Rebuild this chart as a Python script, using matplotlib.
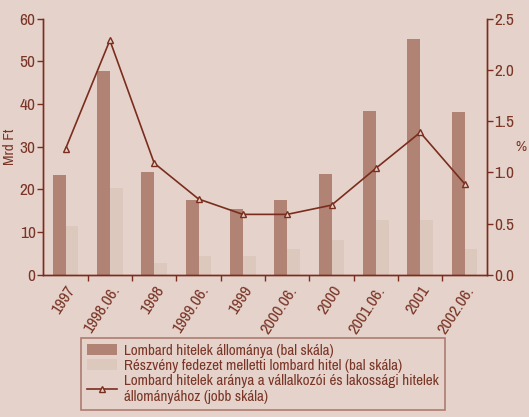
import numpy as np
import matplotlib
matplotlib.use('Agg')
import matplotlib.pyplot as plt

# data
periods = ['1997', '1998.06.', '1998', '1999.06.', '1999', '2000.06.',
           '2000', '2001.06.', '2001', '2002.06.']
lombard = [23.3, 47.7, 24.0, 17.5, 15.4, 17.5, 23.6, 38.3, 55.2, 38.1]
reszveny = [11.4, 20.3, 2.7, 4.4, 4.4, 6.0, 8.1, 12.8, 12.8, 6.0]
arany = [1.23, 2.29, 1.09, 0.74, 0.59, 0.59, 0.68, 1.04, 1.39, 0.89]

bg = '#E5D3CB'
dark = '#B08374'
light = '#DDC8BE'
brown = '#7B2D1D'
txt = '#7A3526'

plt.rcParams['font.family'] = ['Archivo Narrow', 'DejaVu Sans']
plt.rcParams['font.size'] = 11
plt.rcParams['text.color'] = txt
plt.rcParams['xtick.color'] = brown
plt.rcParams['ytick.color'] = brown
plt.rcParams['xtick.labelcolor'] = txt
plt.rcParams['ytick.labelcolor'] = txt
plt.rcParams['xtick.labelsize'] = 12
plt.rcParams['ytick.labelsize'] = 12.5

fig = plt.figure(figsize=(5.29, 4.17), dpi=100, facecolor=bg)
ax = fig.add_axes([0.082, 0.341, 0.838, 0.614])
ax.set_facecolor(bg)
ax2 = ax.twinx()

x = np.arange(len(periods))
w = 0.29
b1 = ax.bar(x - w/2, lombard, w, color=dark, label='Lombard hitelek állománya (bal skála)')
b2 = ax.bar(x + w/2, reszveny, w, color=light,
            label='Részvény fedezet melletti lombard hitel (bal skála)')
l1, = ax2.plot(x, arany, color=brown, lw=1.2, marker='^', ms=4, mfc=bg, mec=brown, mew=1,
               label='Lombard hitelek aránya a vállalkozói és lakossági hitelek\nállományához (jobb skála)')

ax.set_xlim(-0.5, len(periods) - 0.5)
ax.set_ylim(0, 60)
ax.set_yticks(range(0, 61, 10))
ax2.set_ylim(0, 2.5)
ax2.set_yticks(np.arange(0, 2.51, 0.5))
ax2.set_yticklabels(['%.1f' % v for v in np.arange(0, 2.51, 0.5)])

ax.set_xticks(x)
ax.set_xticklabels(periods, rotation=57, ha='right', rotation_mode='anchor')
ax.tick_params(axis='x', which='major', length=0, pad=6)
ax.set_xticks(x[:-1] + 0.5, minor=True)
ax.tick_params(axis='x', which='minor', length=4, width=1, color=brown)
ax.tick_params(axis='y', length=4, width=1, pad=1.5)
ax2.tick_params(axis='y', length=4, width=1, pad=1.5)

for a in (ax, ax2):
    a.spines['top'].set_visible(False)
    for s in ('left', 'right', 'bottom'):
        a.spines[s].set_color(brown)
        a.spines[s].set_linewidth(1)

ax.set_ylabel('Mrd Ft', color=txt, labelpad=2)
ax2.set_ylabel('%', color=txt, rotation=0, va='center', ha='left')
ax2.yaxis.set_label_coords(1.064, 0.5)

leg = fig.legend(handles=[b1, b2, l1], loc='upper left',
                 bbox_to_anchor=(81/529, 1 - 338/417), borderaxespad=0,
                 frameon=True, fancybox=False,
                 handlelength=2.0, handletextpad=0.45, labelspacing=0.05,
                 borderpad=0.4, fontsize=10.9)
leg.get_frame().set_facecolor(bg)
leg.get_frame().set_edgecolor('#A0665A')
leg.get_frame().set_linewidth(1.2)
for t in leg.get_texts():
    t.set_color(txt)

fig.savefig('out.png', dpi=100, facecolor=bg)
